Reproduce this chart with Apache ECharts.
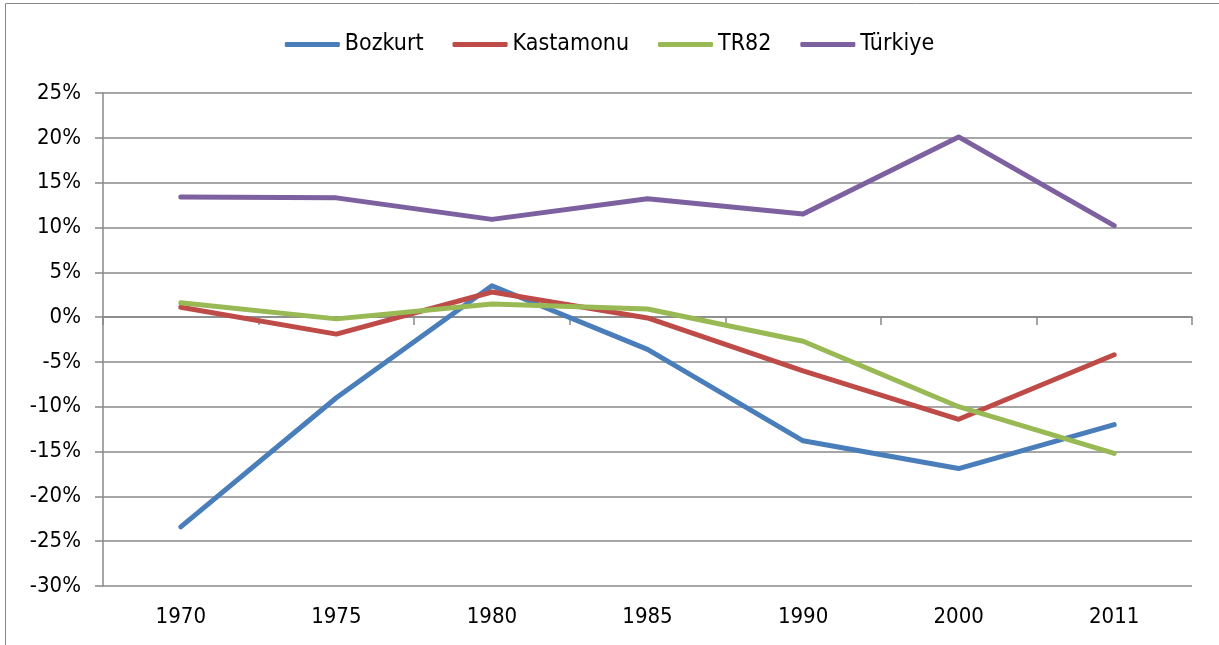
<!DOCTYPE html>
<html>
<head>
<meta charset="utf-8">
<script src="https://cdn.jsdelivr.net/npm/echarts@6/dist/echarts.min.js"></script>
<style>
html,body{margin:0;padding:0;background:#fff;}
#c{width:1219px;height:645px;}
</style>
</head>
<body>
<div id="c"></div>
<script>
const categories = ['1970','1975','1980','1985','1990','2000','2011'];
const bozkurt   = [-23.4, -9.0, 3.5, -3.6, -13.8, -16.9, -12.0];
const kastamonu = [1.1, -1.9, 2.8, -0.1, -6.0, -11.4, -4.2];
const tr82      = [1.6, -0.2, 1.45, 0.9, -2.7, -10.0, -15.2];
const turkiye   = [13.4, 13.3, 10.9, 13.2, 11.5, 20.1, 10.2];
const seriesNames = ['Bozkurt','Kastamonu','TR82','Türkiye'];
const colors = ['#4A7EBB','#BE4B48','#98B954','#7D60A0'];

const font = '"DejaVu Sans Condensed", "DejaVu Sans", sans-serif';
const chart = echarts.init(document.getElementById('c'), null, {renderer:'canvas'});
const mk = (name, data, color) => ({
  name, type:'line', data, xAxisIndex:0, yAxisIndex:0,
  symbol:'none', smooth:false,
  lineStyle:{color, width:5, cap:'round', join:'round'},
  itemStyle:{color},
  emphasis:{disabled:true},
  z: 5
});
chart.setOption({
  animation:false,
  backgroundColor:'#fff',
  graphic:[{
    type:'rect', silent:true, z:-1,
    shape:{x:5.5, y:3.5, width:1300, height:700},
    style:{fill:'none', stroke:'#888', lineWidth:1}
  }],
  legend:{
    top:28, left:'center',
    itemWidth:55, itemHeight:5, itemGap:29,
    icon:'roundRect',
    textStyle:{fontFamily:font, fontSize:23, color:'#000'},
    data:seriesNames.map((n,i)=>({name:n, itemStyle:{color:colors[i]}}))
  },
  grid:{left:103, right:27, top:93, bottom:59, containLabel:false},
  xAxis:[{
    type:'category', data:categories, boundaryGap:true, position:'bottom',
    axisLine:{onZero:false, show:false},
    axisTick:{show:false},
    axisLabel:{fontFamily:font, fontSize:22, color:'#000', margin:20},
    splitLine:{show:false}
  },{
    type:'category', data:categories, boundaryGap:true, position:'bottom',
    axisLine:{onZero:true, show:true, lineStyle:{color:'#888', width:1.5}},
    axisTick:{show:true, length:8, inside:false, lineStyle:{color:'#888', width:1.5}},
    axisLabel:{show:false},
    splitLine:{show:false}
  }],
  yAxis:{
    type:'value', min:-30, max:25, interval:5,
    axisLine:{show:true, lineStyle:{color:'#888', width:1.5}},
    axisTick:{show:true, length:8, lineStyle:{color:'#888', width:1.5}},
    axisLabel:{fontFamily:font, fontSize:22, color:'#000', margin:22, formatter:'{value}%'},
    splitLine:{show:true, lineStyle:{color:'#888', width:1.5}}
  },
  series:[
    mk(seriesNames[0], bozkurt, colors[0]),
    mk(seriesNames[1], kastamonu, colors[1]),
    mk(seriesNames[2], tr82, colors[2]),
    mk(seriesNames[3], turkiye, colors[3])
  ]
});
</script>
</body>
</html>
